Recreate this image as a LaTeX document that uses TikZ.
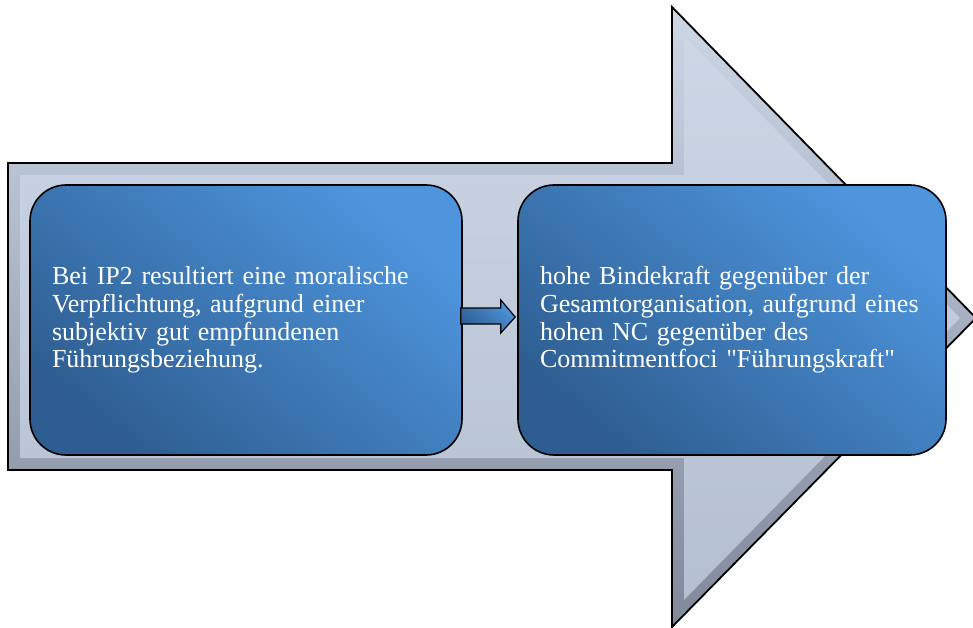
\documentclass[tikz,border=0pt]{standalone}
\usepackage{fontspec}
\setmainfont{Liberation Serif}
\usepackage{tikz}
\usetikzlibrary{calc}

\definecolor{arrowlight}{HTML}{CDD7E6}
\definecolor{arrowmid}{HTML}{B4BFD1}
\definecolor{arrowdark}{HTML}{80899A}
\definecolor{boxlight}{HTML}{4E95DD}
\definecolor{boxdark}{HTML}{2E5E91}

\tikzset{
  textbox/.style={draw=black, line width=1.6pt, rounded corners=36pt,
    shading=axis, top color=boxlight, bottom color=boxdark, shading angle=-40,
    text=white, align=left, inner xsep=22pt, minimum height=270pt,
    font=\fontsize{26}{27.7}\selectfont},
  smallarrow/.style={draw=black, line width=1.2pt, shading=axis,
    top color=boxlight, bottom color=boxdark, shading angle=-40}
}

\begin{document}
\begin{tikzpicture}[x=1pt, y=-1pt]
  \useasboundingbox (0,0) rectangle (973,628);
  % big arrow with bevel
  \draw[line width=1.8pt, shading=axis, top color=arrowlight, bottom color=arrowdark]
    (8,163) -- (672,163) -- (672,7) -- (976,318) -- (672,627) -- (672,470) -- (8,470) -- cycle;
  \shade[top color=arrowlight, bottom color=arrowmid]
    (20,175) -- (684,175) -- (684,36) -- (960,318) -- (684,600) -- (684,458) -- (20,458) -- cycle;

  \node[textbox, text width=388pt] (lbox) at (246,320)
    {Bei IP2 resultiert eine moralische\\Verpflichtung, aufgrund einer\\subjektiv gut empfundenen\\Führungsbeziehung.};
  \node[textbox, text width=384pt] (rbox) at (732,320)
    {hohe Bindekraft gegenüber der\\Gesamtorganisation, aufgrund eines\\hohen NC gegenüber des\\Commitmentfoci \textquotedbl Führungskraft\textquotedbl};

  \draw[smallarrow] ($(lbox.east)+(-2,-12)$) -- ++(40,0) -- ++(0,-8)
    -- ($(rbox.west)+(-2,-3)$) -- ($(lbox.east)+(38,13)$) -- ++(0,-9) -- ++(-40,0) -- cycle;
\end{tikzpicture}
\end{document}
